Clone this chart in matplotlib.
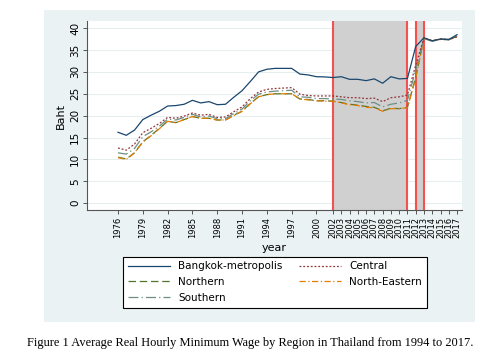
import matplotlib
matplotlib.use("Agg")
import matplotlib.pyplot as plt
import numpy as np
from matplotlib.patches import Rectangle

# Data
years = list(range(1976, 2018))
bangkok = [16.2, 15.5, 16.7, 19.1, 20.1, 21.0, 22.2, 22.3, 22.6, 23.5, 22.9, 23.2, 22.5, 22.6,
           24.2, 25.7, 27.8, 30.0, 30.6, 30.8, 30.8, 30.8, 29.5, 29.3, 28.9, 28.85, 28.7, 28.9,
           28.3, 28.3, 28.0, 28.4, 27.4, 28.9, 28.4, 28.5, 35.8, 37.8, 37.1, 37.5, 37.4, 38.5]
central = [12.6, 12.1, 13.5, 16.1, 17.1, 18.2, 19.6, 19.4, 19.9, 20.6, 20.1, 20.3, 19.6, 19.7,
           20.9, 22.0, 23.9, 25.4, 26.0, 26.2, 26.3, 26.4, 24.9, 24.6, 24.5, 24.5, 24.5, 24.3,
           24.1, 24.1, 23.9, 24.0, 23.2, 24.1, 24.3, 24.7, 31.5, 37.8, 37.1, 37.5, 37.4, 38.0]
northern = [10.5, 10.1, 11.5, 14.0, 15.5, 17.1, 18.7, 18.4, 19.1, 19.8, 19.4, 19.4, 19.0, 19.0,
            20.1, 21.0, 22.8, 24.3, 24.8, 25.0, 25.0, 25.0, 23.8, 23.7, 23.4, 23.4, 23.3, 23.0,
            22.6, 22.4, 22.1, 21.9, 21.1, 21.7, 21.6, 21.9, 28.8, 37.6, 37.1, 37.5, 37.4, 38.1]
north_eastern = [10.4, 10.0, 11.5, 14.0, 15.4, 17.0, 18.7, 18.4, 19.1, 19.8, 19.4, 19.4, 19.0, 19.0,
                 20.0, 21.0, 22.7, 24.3, 24.8, 25.0, 25.0, 25.0, 23.8, 23.6, 23.4, 23.3, 23.3, 22.9,
                 22.5, 22.3, 21.9, 21.8, 21.0, 21.6, 21.6, 21.8, 28.5, 37.6, 37.1, 37.5, 37.4, 38.0]
southern = [11.5, 11.2, 12.5, 15.2, 16.3, 17.6, 19.2, 19.0, 19.6, 20.3, 19.7, 19.9, 19.3, 19.3,
            20.5, 21.5, 23.4, 24.9, 25.4, 25.6, 25.7, 25.8, 24.3, 24.2, 23.9, 23.9, 23.8, 23.7,
            23.4, 23.2, 22.9, 23.0, 22.0, 22.6, 22.9, 23.5, 30.4, 37.6, 37.0, 37.4, 37.3, 38.2]

xtick_years = [1976, 1979, 1982, 1985, 1988, 1991, 1994, 1997, 2000] + list(range(2002, 2018))
yticks = list(range(0, 41, 5))
red_lines = [2002, 2011, 2012, 2013]
shaded = [(2002, 2011), (2012, 2013)]

bg = '#eaf2f3'
fig = plt.figure(figsize=(5.0, 3.58), dpi=100)

# Stata-like graph region behind everything
fig.patches.append(Rectangle((0.088, 0.1006), 0.862, 0.8715, transform=fig.transFigure,
                             facecolor=bg, edgecolor='none', zorder=-10))

ax = fig.add_axes([0.174, 0.413, 0.75, 0.528])
ax.set_zorder(1)
ax.set_facecolor('white')

for a, b in shaded:
    ax.axvspan(a, b, color='#d0d0d0', zorder=1, lw=0)
for yr in red_lines:
    ax.axvline(yr, color='#f5514f', lw=1.5, zorder=2)

ax.plot(years, bangkok, color='#1a476f', lw=0.9, label='Bangkok-metropolis', zorder=5)
ax.plot(years, central, color='#90353b', lw=0.9, ls=(0, (1.5, 1.5)), label='Central', zorder=4)
ax.plot(years, northern, color='#55752f', lw=0.9, ls=(0, (6, 3)), label='Northern', zorder=3)
ax.plot(years, north_eastern, color='#e37e00', lw=0.9, ls=(0, (5, 2, 1, 2)), label='North-Eastern', zorder=3)
ax.plot(years, southern, color='#6e8e84', lw=0.9, ls=(0, (8, 2.5, 1, 2.5)), label='Southern', zorder=3)

ax.set_xlim(1972.25, 2017.6)
ax.set_ylim(-1.6, 41.6)
ax.grid(axis='y', color='#e6eef0', lw=0.8, zorder=0)
ax.set_axisbelow(True)

for s in ['top', 'right']:
    ax.spines[s].set_visible(False)
for s in ['left', 'bottom']:
    ax.spines[s].set_color('#555555')
    ax.spines[s].set_linewidth(0.8)
ax.tick_params(colors='#555555', length=3, width=0.7, pad=2, labelcolor='black')

ax.set_xticks(xtick_years)
ax.set_xticklabels([str(y) for y in xtick_years], rotation=90, fontsize=6)
ax.set_yticks(yticks)
ax.set_yticklabels([str(v) for v in yticks], rotation=90, va='center', fontsize=7.5)

ax.set_ylabel('Baht', fontsize=8, labelpad=3)
ax.set_xlabel('year', fontsize=8, labelpad=3)

# Legend: two columns, row order as in the original
h, l = ax.get_legend_handles_labels()
order = [0, 2, 4, 1, 3]
leg = fig.legend([h[i] for i in order], [l[i] for i in order], ncol=2, loc='center',
                 bbox_to_anchor=(0.55, 0.212), fontsize=7.5, frameon=True, fancybox=False,
                 framealpha=1, edgecolor='black', handlelength=4, columnspacing=1.6,
                 labelspacing=0.55, borderpad=0.45, handletextpad=0.8)
leg.get_frame().set_linewidth(0.8)

fig.text(0.5, 0.042, 'Figure 1 Average Real Hourly Minimum Wage by Region in Thailand from 1994 to 2017.',
         ha='center', va='center', fontsize=8.9, family='Liberation Serif')

fig.savefig('out.png', dpi=100)
